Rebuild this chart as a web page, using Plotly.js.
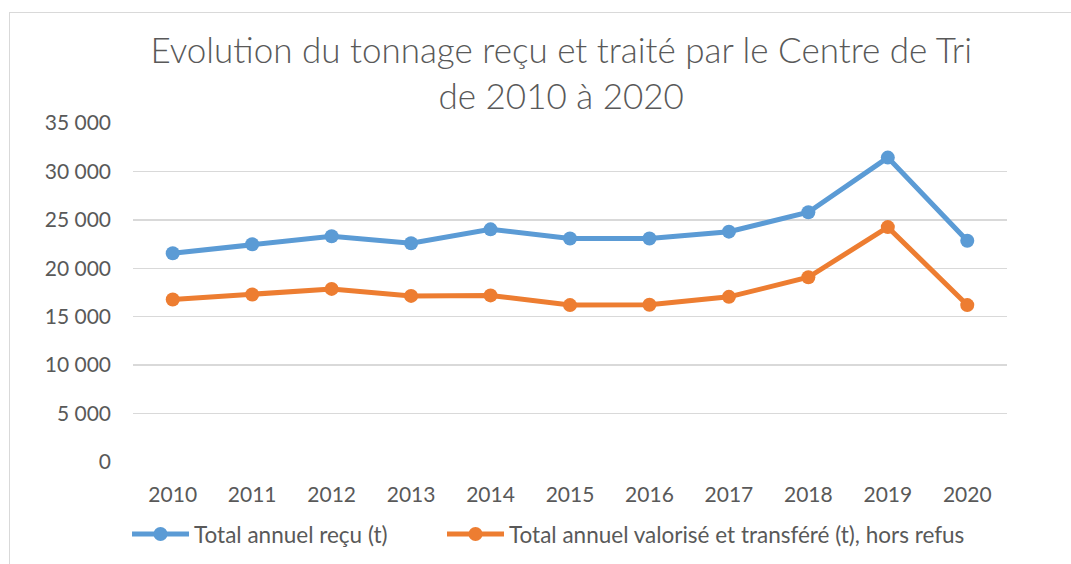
<!DOCTYPE html>
<html>
<head>
<meta charset="utf-8">
<script src="https://cdn.plot.ly/plotly-3.0.1.min.js"></script>
<style>
html,body{margin:0;padding:0;background:#fff;}
#wrap{position:relative;width:1071px;height:564px;overflow:hidden;}
#frame{position:absolute;left:9px;top:12px;width:1100px;height:600px;border:1px solid #d9d9d9;pointer-events:none;}
#chart{position:absolute;left:0;top:0;width:1071px;height:564px;}
</style>
</head>
<body>
<div id="wrap"><div id="frame"></div><div id="chart"></div></div>
<script>
const years = ['2010','2011','2012','2013','2014','2015','2016','2017','2018','2019','2020'];
const totalRecu = [21550, 22480, 23300, 22580, 24020, 23080, 23080, 23780, 25780, 31430, 22850];
const totalValorise = [16770, 17290, 17870, 17150, 17200, 16200, 16230, 17050, 19070, 24250, 16200];
const yTicks = [0, 5000, 10000, 15000, 20000, 25000, 30000, 35000];
const yTickText = ['0', '5 000', '10 000', '15 000', '20 000', '25 000', '30 000', '35 000'];
const seriesNames = ['Total annuel reçu (t)', 'Total annuel valorisé et transféré (t), hors refus'];

const font = 'Lato, "Open Sans", sans-serif';
const traces = [
  {x: years, y: totalRecu, name: seriesNames[0], type: 'scatter', mode: 'lines+markers', legend: 'legend',
   line: {color: '#5b9bd5', width: 5}, marker: {color: '#5b9bd5', size: 14}},
  {x: years, y: totalValorise, name: seriesNames[1], type: 'scatter', mode: 'lines+markers', legend: 'legend2',
   line: {color: '#ed7d31', width: 5}, marker: {color: '#ed7d31', size: 14}}
];
const legendFont = {family: font, size: 22.5, color: '#595959'};
const layout = {
  width: 1071, height: 564,
  paper_bgcolor: 'rgba(0,0,0,0)', plot_bgcolor: 'rgba(0,0,0,0)',
  margin: {l: 133, r: 64, t: 123, b: 102, autoexpand: false},
  title: {text: 'Evolution du tonnage reçu et traité par le Centre de Tri<br>de 2010 à 2020',
          font: {family: font, size: 35, weight: 300, color: '#595959'}, x: 0.524, xanchor: 'center', y: 0.8876, yanchor: 'top'},
  showlegend: true,
  legend: {orientation: 'h', xref: 'container', yref: 'container', x: 0.1186, xanchor: 'left', y: 0.0906, yanchor: 'top',
           font: legendFont, itemwidth: 57},
  legend2: {orientation: 'h', xref: 'container', yref: 'container', x: 0.4127, xanchor: 'left', y: 0.0906, yanchor: 'top',
           font: legendFont, itemwidth: 57},
  xaxis: {type: 'category', range: [-0.5, 10.5], showgrid: false, zeroline: false, showline: false,
          ticks: '', tickfont: {family: font, size: 21, color: '#595959'}, ticklabelstandoff: 18},
  yaxis: {range: [0, 35000], tickvals: yTicks, ticktext: yTickText, showgrid: true, gridcolor: '#d9d9d9',
          gridwidth: 1.3, zeroline: false, showline: false, ticks: '',
          tickfont: {family: font, size: 21, color: '#595959'}, ticklabelstandoff: 21}
};
Plotly.newPlot('chart', traces, layout, {displayModeBar: false, staticPlot: true});
</script>
</body>
</html>
